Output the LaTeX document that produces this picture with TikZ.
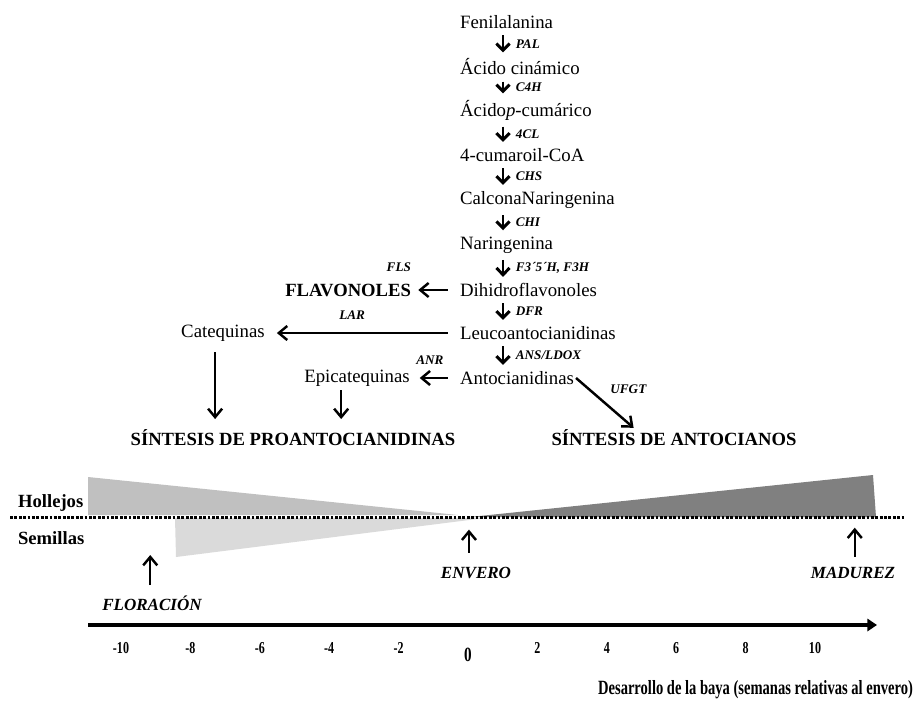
\documentclass[tikz,border=0pt]{standalone}
\usepackage{fontspec}
\setmainfont{Liberation Serif}
\usetikzlibrary{arrows.meta}

\definecolor{grisclaro}{RGB}{192,192,192}
\definecolor{grissemilla}{RGB}{218,218,218}
\definecolor{grisoscuro}{RGB}{128,128,128}

\tikzset{
  met/.style={anchor=west, inner sep=1pt, font=\fontsize{10.7}{12}\selectfont},
  enz/.style={anchor=west, inner sep=0.5pt, font=\fontsize{7.5}{8}\selectfont\bfseries\itshape},
  hdr/.style={inner sep=1pt, font=\fontsize{10.6}{12}\selectfont\bfseries},
  etapa/.style={inner sep=1pt, font=\fontsize{9.7}{11}\selectfont\bfseries\itshape},
  sem/.style={inner sep=1pt, font=\fontsize{9.5}{10}\selectfont\bfseries},
  paso/.style={-{Straight Barb[length=3.8pt,width=7.5pt]}, line width=1.7pt, shorten <=2.5pt, shorten >=2.5pt},
  flecha/.style={-{Straight Barb[length=4.8pt,width=8pt]}, line width=1.4pt},
  eje/.style={-{Triangle[length=5.5pt,width=7pt]}, line width=2.2pt},
  puntos/.style={line width=1.7pt, dash pattern=on 1.6pt off 0.9pt}
}

\begin{document}
\begin{tikzpicture}[x=0.02cm,y=-0.02cm]
\useasboundingbox (0,0) rectangle (917,711);

    % Pathway
    \node[met] (fen)  at (458,22)  {Fenilalanina};
    \node[met] (acin) at (458,67)  {Ácido cinámico};
    \node[met] (pcum) at (458,110) {Ácido\textit{p}-cumárico};
    \node[met] (coa)  at (458,155) {4-cumaroil-CoA};
    \node[met] (cal)  at (458,200) {CalconaNaringenina};
    \node[met] (nar)  at (458,245) {Naringenina};
    \node[met] (dih)  at (458,290) {Dihidroflavonoles};
    \node[met] (leu)  at (458,333) {Leucoantocianidinas};
    \node[met] (ant)  at (458,378) {Antocianidinas};
    \coordinate (col) at (503,0);

    \foreach \a/\b/\e in {fen/acin/PAL, acin/pcum/C4H, pcum/coa/4CL, coa/cal/CHS,
        cal/nar/CHI, nar/dih/{F3´5´H, F3H}, dih/leu/DFR, leu/ant/{ANS/LDOX}}
      \draw[paso] (\a.south -| col) -- (\b.north -| col)
        node[enz, midway, xshift=6pt] {\e};

    % Side branches
    \node[hdr, anchor=east] (flav) at (413,290) {FLAVONOLES};
    \node[met, anchor=center] (cat) at (223,333) {Catequinas};
    \node[met, anchor=center] (epi) at (357,378) {Epicatequinas};
    \node[hdr] (pro)  at (293,438) {SÍNTESIS DE PROANTOCIANIDINAS};
    \node[hdr] (antc) at (674,438) {SÍNTESIS DE ANTOCIANOS};

    \draw[flecha, shorten >=3pt] ([xshift=-5.7pt]dih.west) -- (flav.east)
      node[enz, pos=1, anchor=south east, yshift=9pt] {FLS};
    \draw[flecha, shorten >=5.7pt] ([xshift=-5.7pt]leu.west) -- (cat.east)
      node[enz, midway, anchor=south, xshift=-3pt, yshift=6.5pt] {LAR};
    \draw[flecha, shorten >=4.5pt] ([xshift=-5.7pt]ant.west) -- (epi.east)
      node[enz, midway, anchor=south, yshift=6.5pt] {ANR};
    \draw[flecha, shorten <=5pt, shorten >=5pt] ([xshift=-4.5pt]cat.south) -- ([xshift=-4.5pt]cat.south |- pro.north);
    \draw[flecha, shorten <=1pt, shorten >=5pt] ([xshift=-9pt]epi.south) -- ([xshift=-9pt]epi.south |- pro.north);
    \draw[flecha] (ant.east) -- ([xshift=-23pt]antc.north)
      node[enz, midway, anchor=south west, xshift=2pt, yshift=4pt] {UFGT};

    % Skins and seeds
    \fill[grisclaro] (88,477) -- (88,515) -- (458,515) -- cycle;
    \fill[grissemilla] (175,518) -- (176,557) -- (485,518) -- cycle;
    \fill[grisoscuro] (470,517) -- (873,475) -- (876,517) -- cycle;
    \draw[puntos] (10,517) -- (905,517);
    \node[hdr, anchor=west] (hol) at (16,503) {Hollejos};
    \node[hdr, anchor=west] (semi) at (16,538) {Semillas};

    \node[etapa] (flor) at (152,603) {FLORACIÓN};
    \node[etapa] (env)  at (476,573) {ENVERO};
    \node[etapa] (mad)  at (853,573) {MADUREZ};
    \draw[flecha, shorten <=4.8pt] ([xshift=-1pt]flor.north) -- ++(0,-38.5);
    \draw[flecha, shorten <=7pt] ([xshift=-4pt]env.north) -- ++(0,-35.5);
    \draw[flecha, shorten <=4.8pt] ([xshift=1pt]mad.north) -- ++(0,-37.5);

    % Time axis
    \coordinate (ini) at (88,625);
    \coordinate (fin) at (877,625);
    \draw[eje] (ini) -- (fin);
    \foreach \s in {-10,-8,-6,-4,-2,2,4,6,8,10}
      \node[sem] (s\s) at ({468+34.7*\s},648) {\scalebox{0.72}[1]{\s}};
    \node[sem, font=\fontsize{11.5}{12}\selectfont\bfseries] (s0) at (468,655) {\scalebox{0.75}[1]{0}};

    \node[hdr, anchor=east, font=\fontsize{11.5}{13}\selectfont\bfseries] (des) at (915,690)
      {\scalebox{0.72}[1]{Desarrollo de la baya (semanas relativas al envero)}};

\end{tikzpicture}
\end{document}
